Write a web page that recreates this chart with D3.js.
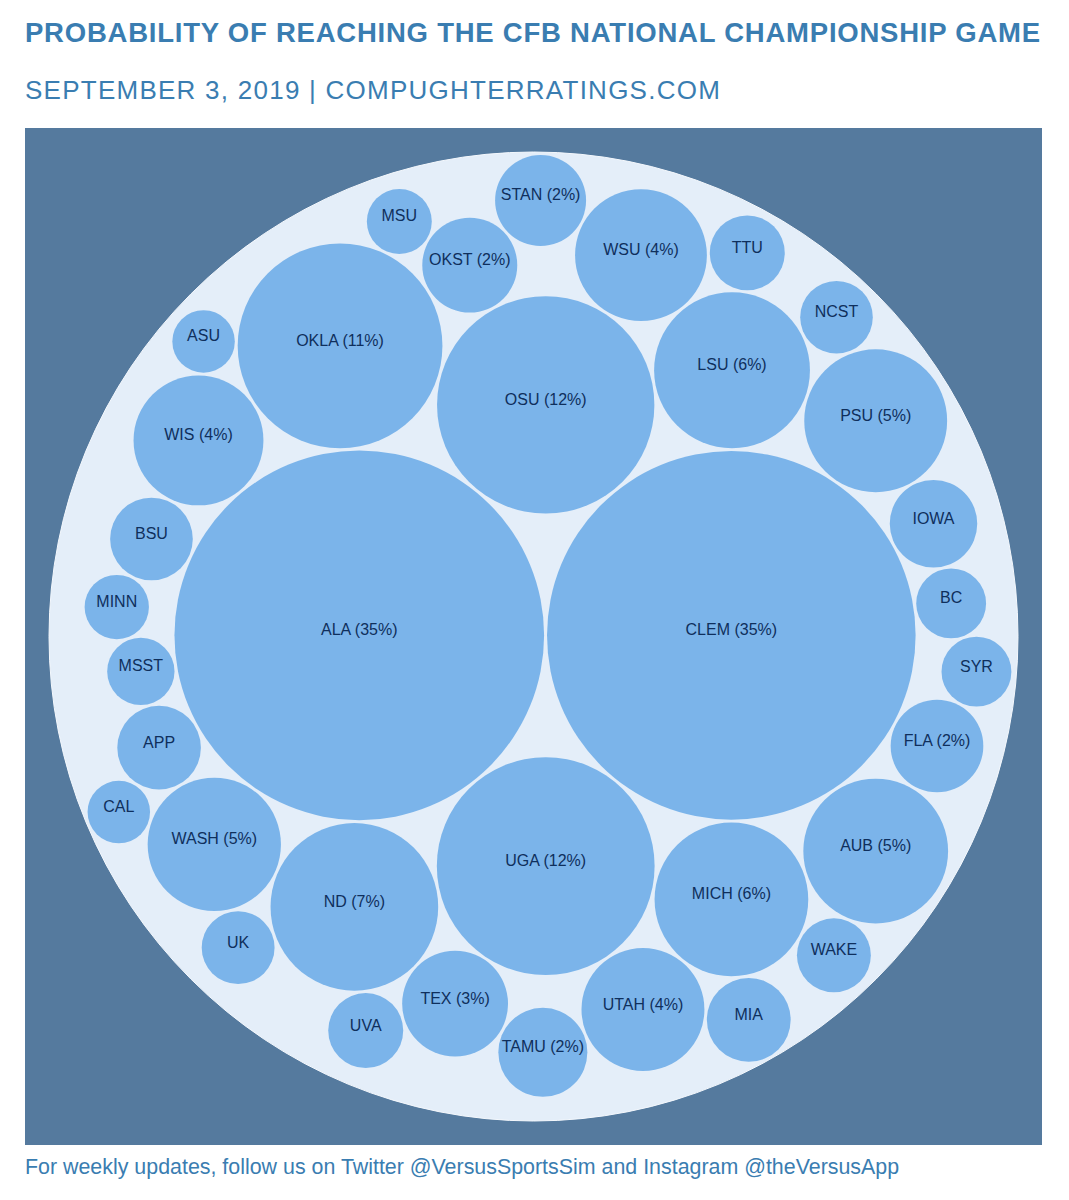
<!DOCTYPE html>
<html><head><meta charset="utf-8">
<script src="https://cdn.jsdelivr.net/npm/d3@7"></script>
<style>body{margin:0;background:#fff;}</style>
</head><body>
<svg id="chart" width="1069" height="1200"></svg>
<script>
// Teams in source order (order used by the packing layout)
const teams = ["ALA","CLEM","UGA","OSU","OKLA","ND","LSU","MICH","AUB","PSU","WASH","WIS","UTAH","WSU","TEX","OKST","TAMU","FLA","IOWA","STAN","APP","BSU","MIA","WAKE","NCST","UVA","TTU","UK","MSST","BC","SYR","MINN","MSU","ASU","CAL"];
// Probability of reaching the title game (%)
const probs = [35.0,34.8,12.15,12.1,10.74,7.2,6.22,6.05,5.37,5.23,4.55,4.32,3.87,4.45,2.87,2.31,2.03,2.2,1.96,2.12,1.79,1.75,1.8,1.4,1.35,1.44,1.44,1.36,1.16,1.25,1.25,1.06,1.08,1.0,1.0];
const titleText = "PROBABILITY OF REACHING THE CFB NATIONAL CHAMPIONSHIP GAME";
const subtitleText = "SEPTEMBER 3, 2019 | COMPUGHTERRATINGS.COM";
const footerText = "For weekly updates, follow us on Twitter @VersusSportsSim and Instagram @theVersusApp";

const svg = d3.select("#chart");
const accent = "#3a7db1";
const font = "Liberation Sans, Arial, sans-serif";

svg.append("text").attr("x",25).attr("y",42)
  .attr("font-family",font).attr("font-weight","bold")
  .attr("font-size",27.5).attr("letter-spacing",0.77).attr("fill",accent).text(titleText);
svg.append("text").attr("x",25).attr("y",99)
  .attr("font-family",font)
  .attr("font-size",26).attr("letter-spacing",1.25).attr("fill",accent).text(subtitleText);
svg.append("text").attr("x",25).attr("y",1174)
  .attr("font-family",font)
  .attr("font-size",21.4).attr("fill",accent).text(footerText);

const panel = {x:25, y:128, size:1017, margin:24};
svg.append("rect").attr("x",panel.x).attr("y",panel.y)
  .attr("width",panel.size).attr("height",panel.size).attr("fill","#557a9e");

const data = {name:"root", children: teams.map((t,i)=>({name:t, value:probs[i]}))};
const diam = panel.size - 2*panel.margin;
const root = d3.hierarchy(data).sum(d=>d.value||0);
d3.pack().size([diam, diam]).padding(3)(root);

const xs = d3.scaleLinear().domain([0,diam]).range([panel.x+panel.margin, panel.x+panel.margin+diam]);
const ys = d3.scaleLinear().domain([0,diam]).range([panel.y+panel.margin, panel.y+panel.margin+diam]);

const g = svg.append("g");
g.append("circle").attr("cx",xs(root.x)).attr("cy",ys(root.y)).attr("r",root.r)
  .attr("fill","#e4eef9").attr("stroke","#f4f8fd").attr("stroke-width",1);

const leaves = g.selectAll("g.leaf").data(root.leaves()).join("g").attr("class","leaf");
leaves.append("circle").attr("cx",d=>xs(d.x)).attr("cy",d=>ys(d.y)).attr("r",d=>d.r)
  .attr("fill","#7bb4ea");
leaves.append("text").attr("x",d=>xs(d.x)).attr("y",d=>ys(d.y))
  .attr("text-anchor","middle")
  .attr("font-family",font).attr("font-size",16)
  .attr("fill","#0f2f5c")
  .text(d=> d.data.value >= 2 ? `${d.data.name} (${Math.round(d.data.value)}%)` : d.data.name);
</script>
</body></html>
